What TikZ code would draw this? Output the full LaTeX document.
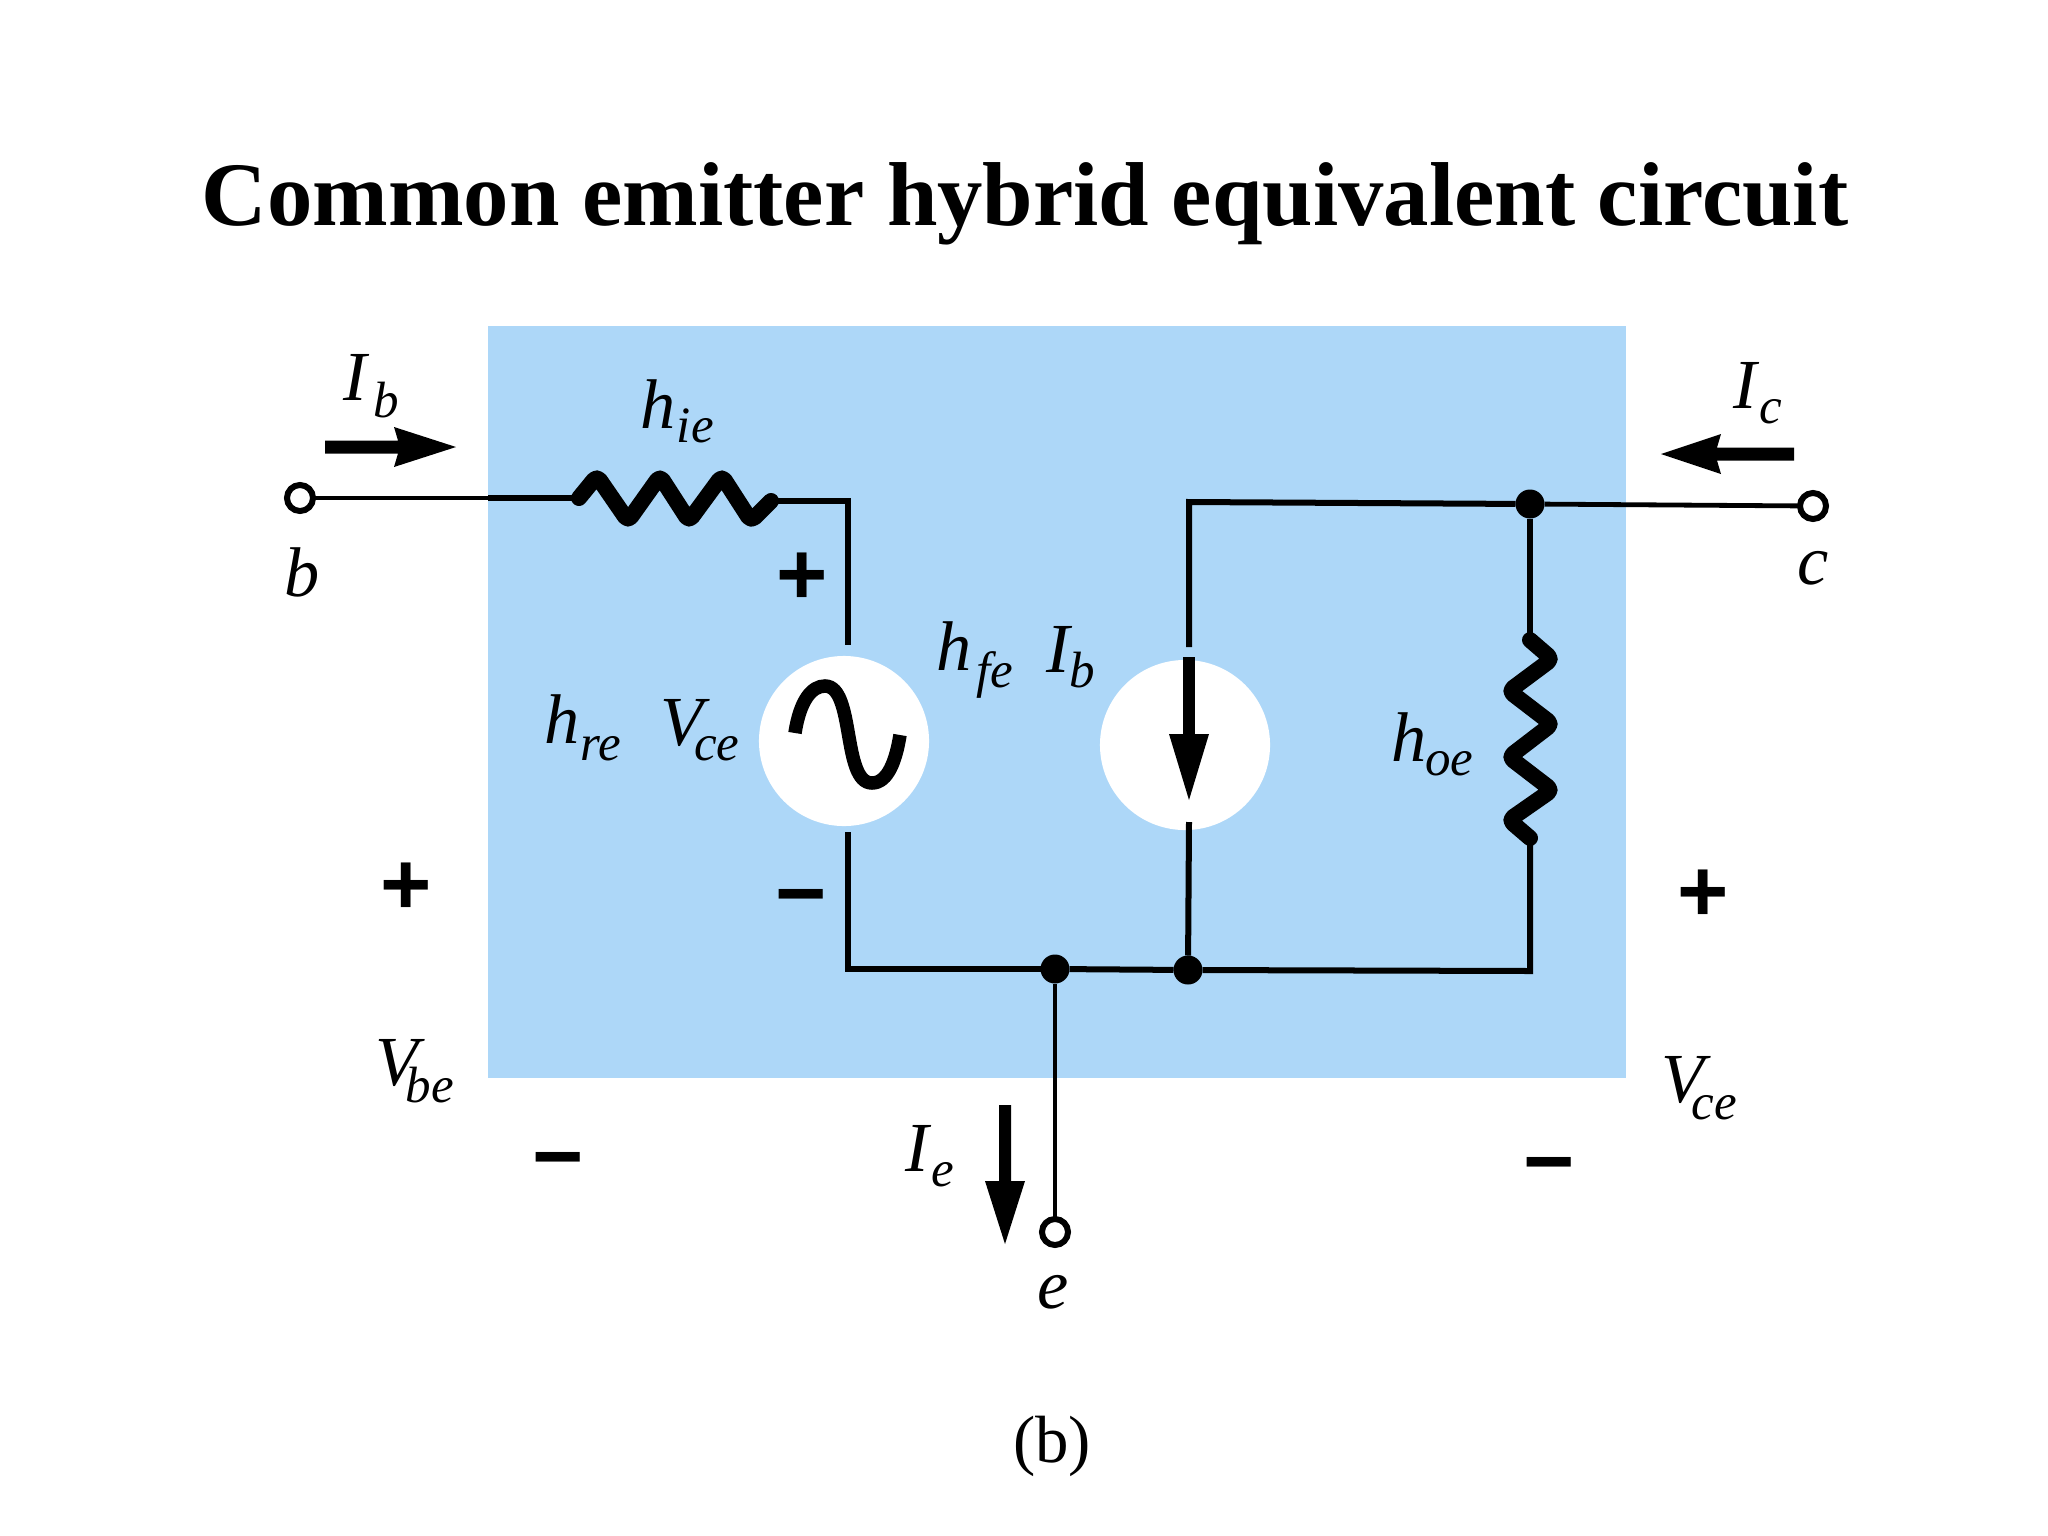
\documentclass[tikz,border=0pt]{standalone}
\usepackage{fontspec}
\setmainfont{Liberation Serif}
\newfontfamily\signfont{Liberation Sans}
\definecolor{panelblue}{RGB}{173,215,248}
\newcommand{\mainsz}{\fontsize{20}{24}\selectfont}
\newcommand{\subsz}{\fontsize{14.5}{18}\selectfont}
% symbol, subscript, drop, gap
\newcommand{\symsub}[4]{\itshape\mainsz #1\hspace{#4}\raisebox{-#3}{\subsz #2}}
\tikzset{
  every node/.style={inner sep=0pt,outer sep=0pt},
  wire/.style={line width=0.06cm,black},
  thinwire/.style={line width=0.048cm,black},
  zig/.style={line width=0.16cm,black,line join=round,line cap=round,rounded corners=0.05cm},
  terminal/.style={circle,draw=black,fill=white,line width=0.06cm,minimum size=0.26cm},
  junction/.style={circle,fill=black,minimum size=0.29cm},
  source/.style={circle,fill=white,minimum size=1.7cm},
  lab/.style={anchor=base west},
  termlab/.style={anchor=center,font=\itshape\mainsz},
  sign/.style={anchor=center,font=\signfont\bfseries\fontsize{25}{30}\selectfont},
  arrowbody/.style={fill=black},
}
\begin{document}
\begin{tikzpicture}[x=0.01cm,y=-0.01cm]
\useasboundingbox (0,0) rectangle (2048,1536);
\fill[white] (0,0) rectangle (2048,1536);
\fill[panelblue] (488,326) rectangle (1626,1078);

\node[anchor=base,font=\bfseries\fontsize{25.8}{30}\selectfont] (title) at (1025,225) {Common emitter hybrid equivalent circuit};

% sources
\node[source] (vsrc) at (844,741) {};
\node[source] (isrc) at (1185,745) {};

% terminals and junctions
\node[terminal] (tb) at (300,498) {};
\node[terminal] (tc) at (1813,506) {};
\node[terminal] (te) at (1055,1232) {};
\node[junction] (jc) at (1530,504) {};
\node[junction] (je) at (1055,969) {};
\node[junction] (ji) at (1188,970) {};

% helper points
\coordinate (rbL) at (579,498);
\coordinate (rbR) at (771,501);
\coordinate (c1) at (848,501);
\coordinate (c2) at (848,969);
\coordinate (c3) at (1189,502);
\coordinate (c4) at (1530,971);
\coordinate (rcT) at (1530,640);
\coordinate (rcB) at (1530,838);
\coordinate (v1top) at (848,645);
\coordinate (v1bot) at (848,832);
\coordinate (i1top) at (1189,647);
\coordinate (i1bot) at (1189,822);

% wires
\draw[thinwire] (tb) -- (rbL);
\draw[wire] (488,498) -- (rbL);
\draw[wire] (rbR) -- (c1) -- (v1top);
\draw[wire] (v1bot) -- (c2) -- (je);
\draw[wire] (je) -- (ji) -- (c4) -- (rcB);
\draw[wire] (i1top) -- (c3) -- (jc);
\draw[wire] (jc) -- (rcT);
\draw[thinwire] (jc) -- (tc);
\draw[wire] (i1bot) -- (ji);
\draw[thinwire] (je) -- (te);

% resistors
\draw[zig] (rbL) -- (597,476) -- (628,521) -- (660,476) -- (689,521) -- (722,476) -- (751,521) -- (rbR);
\draw[zig] (rcT) -- (1552,659) -- (1509,691) -- (1552,724) -- (1509,757) -- (1552,790) -- (1509,820) -- (rcB);

% AC symbol
\draw[line width=0.135cm,black] (795,733) .. controls (800,700) and (812,686) .. (825,686)
  .. controls (855,686) and (842,783) .. (872,783) .. controls (888,783) and (896,760) .. (900,735);

% dependent current arrow
\draw[line width=0.12cm,black] (i1top |- 0,657) -- (1189,745);
\fill[black] (1169,734) -- (1209,734) -- (1189,800) -- cycle;

% current arrows
\fill[arrowbody] (325,440.5) -- (398,440.5) -- (394,427) -- (456,447) -- (394,467) -- (398,453.5) -- (325,453.5) -- cycle;
\fill[arrowbody] (1794,447.5) -- (1717,447.5) -- (1721,434) -- (1661,454) -- (1721,474) -- (1717,460.5) -- (1794,460.5) -- cycle;
\fill[arrowbody] (999,1105) -- (1011,1105) -- (1011,1181) -- (1025,1181) -- (1005,1244) -- (985,1181) -- (999,1181) -- cycle;

% labels
\node[lab] (lIb) at (343,400) {\symsub{I}{b}{5pt}{2pt}};
\node[lab] (lhie) at (640,428) {\symsub{h}{ie}{4pt}{0.5pt}};
\node[lab] (lhre) at (544,743) {\symsub{h}{re}{5pt}{0.5pt}};
\node[lab] (lVce) at (660,745) {\symsub{V}{ce}{4.5pt}{-2.5pt}};
\node[lab] (lhfe) at (936,670) {\symsub{h}{fe}{5pt}{1.5pt}};
\node[lab] (lIb2) at (1046,672) {\symsub{I}{b}{4.5pt}{0pt}};
\node[lab] (lhoe) at (1391,761) {\symsub{h}{oe}{4pt}{-0.3pt}};
\node[lab] (lIc) at (1733,408) {\symsub{I}{c}{4.5pt}{1pt}};
\node[lab] (lVbe) at (375,1085) {\symsub{V}{be}{5pt}{-3.5pt}};
\node[lab] (lIe) at (905,1171) {\symsub{I}{e}{4.5pt}{1pt}};
\node[lab] (lVce2) at (1661,1102) {\symsub{V}{ce}{5pt}{-3.5pt}};
\node[termlab] (lb) at (302,572) {b};
\node[termlab] (lc) at (1813,568) {c};
\node[termlab] (le) at (1053,1292) {e};
\node[anchor=base,font=\fontsize{19}{22}\selectfont] (cap) at (1052,1462) {(b)};

% signs
\node[sign] (p1) at (802,579) {+};
\node[sign] (m1) at (801,906) {−};
\node[sign] (p2) at (406,889) {+};
\node[sign] (m2) at (558,1169) {−};
\node[sign] (p3) at (1703,896) {+};
\node[sign] (m3) at (1549,1174) {−};
\end{tikzpicture}
\end{document}
